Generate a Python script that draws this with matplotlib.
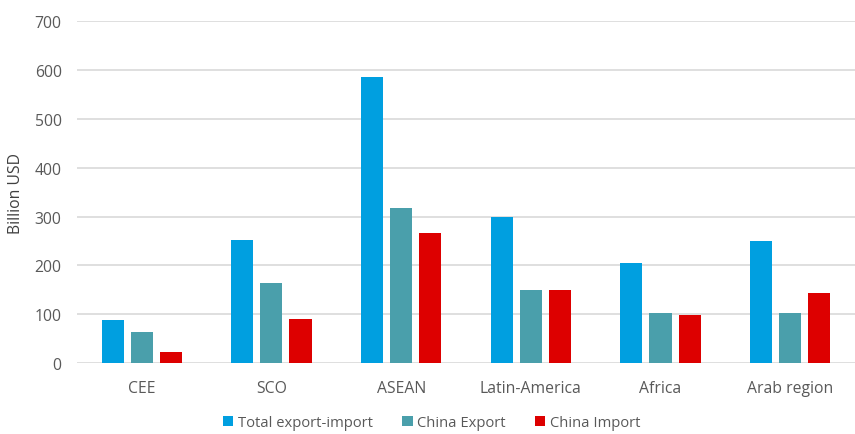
import matplotlib
matplotlib.use("Agg")
import matplotlib.pyplot as plt
import numpy as np

categories = ["CEE", "SCO", "ASEAN", "Latin-America", "Africa", "Arab region"]
total = [88, 253, 585, 299, 204, 249]
export = [64, 163, 317, 149, 103, 103]
imports = [22, 90, 267, 149, 99, 143]
series_names = ["Total export-import", "China Export", "China Import"]
colors = ["#009FE0", "#4A9FAB", "#DD0000"]
yticks = [0, 100, 200, 300, 400, 500, 600, 700]

plt.rcParams['font.family'] = ['Open Sans', 'DejaVu Sans']

fig = plt.figure(figsize=(8.55, 4.35), dpi=100)
ax = fig.add_axes([0.090, 0.163, 0.910, 0.786])

x = np.arange(len(categories))
w = 0.17
step = 0.224
for i, (vals, name, c) in enumerate(zip([total, export, imports], series_names, colors)):
    ax.bar(x + (i - 1) * step, vals, width=w, color=c, label=name, zorder=3)

ax.set_xlim(-0.5, len(categories) - 0.5)
ax.set_ylim(0, 700)
ax.set_yticks(yticks)
ax.set_xticks(x)
ax.set_xticklabels(categories)
ax.yaxis.grid(True, color="#D9D9D9", linewidth=1.2, zorder=0)
for s in ax.spines.values():
    s.set_visible(False)
ax.tick_params(axis="both", length=0, colors="#595959", labelsize=11.3)
ax.tick_params(axis="x", pad=12)
ax.tick_params(axis="y", pad=11)
ax.set_ylabel("Billion USD", color="#404040", fontsize=11.3, labelpad=8)

fig.legend(loc="lower center", bbox_to_anchor=(0.505, -0.022), ncol=3, frameon=False,
           fontsize=10.6, handlelength=0.7, handleheight=0.7, handletextpad=0.3,
           columnspacing=2.0, labelcolor="#595959")

fig.savefig("out.png", dpi=100)
